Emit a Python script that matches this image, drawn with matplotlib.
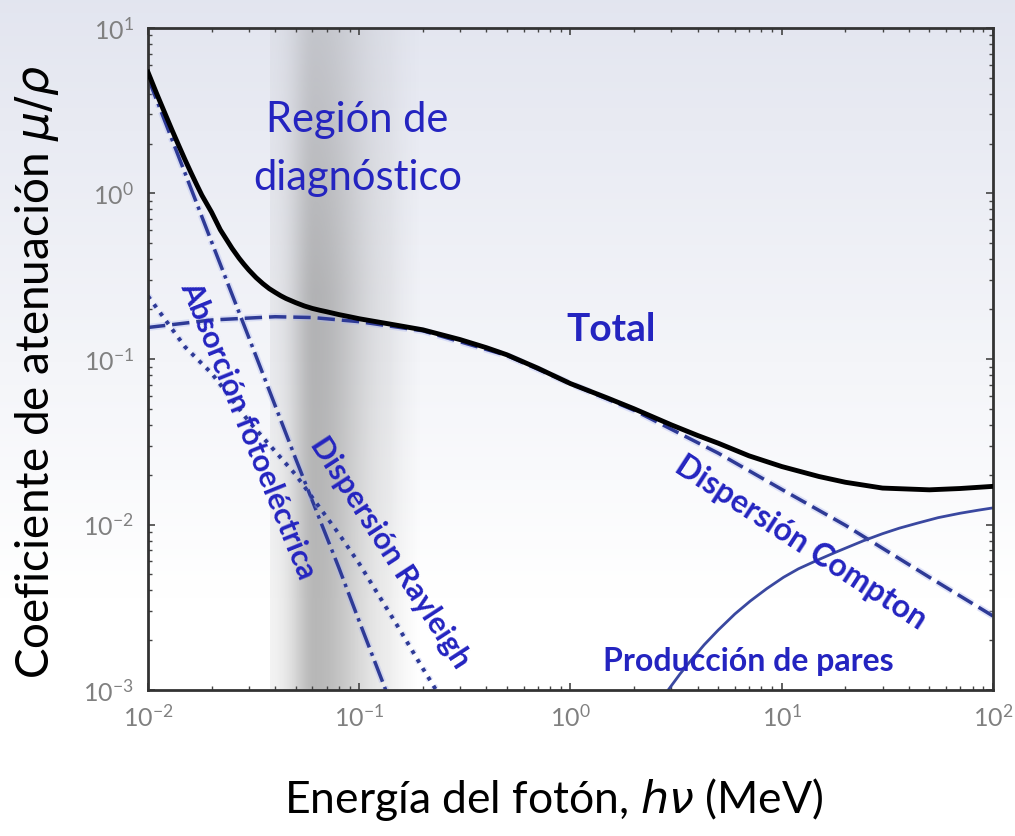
import numpy as np
import matplotlib.pyplot as plt
import matplotlib.patheffects as pe

plt.rcParams['font.family'] = ['Lato', 'DejaVu Sans']

# energias (MeV) y coeficientes
e_total = [0.01, 0.011, 0.012, 0.013, 0.014, 0.015, 0.016, 0.017, 0.018, 0.02, 0.022,
           0.025, 0.027, 0.0285, 0.03, 0.0325, 0.035, 0.0375, 0.04, 0.0425, 0.045,
           0.05, 0.055, 0.06, 0.065, 0.07, 0.08, 0.09, 0.1, 0.15, 0.2, 0.3, 0.4, 0.5,
           0.7, 1, 1.5, 2, 3, 4, 5, 7, 10, 15, 20, 30, 50, 70, 100]
mu_total = [5.4, 4.0, 3.07, 2.41, 1.94, 1.59, 1.33, 1.13, 0.974, 0.77, 0.603,
            0.466, 0.406, 0.3725, 0.345, 0.31, 0.285, 0.266, 0.2525, 0.241, 0.232,
            0.219, 0.209, 0.202, 0.197, 0.193, 0.1855, 0.18, 0.175, 0.16, 0.15, 0.131,
            0.117, 0.106, 0.088, 0.071, 0.058, 0.05, 0.04, 0.0345, 0.031, 0.026,
            0.0224, 0.0195, 0.018, 0.0166, 0.0162, 0.0165, 0.017]

e_foto = [0.01, 0.015, 0.02, 0.03, 0.05, 0.08, 0.1, 0.15]
mu_foto = [5.0, 1.32, 0.51, 0.135, 0.025, 0.0055, 0.0026, 0.00068]

e_rayleigh = [0.01, 0.015, 0.02, 0.03, 0.05, 0.08, 0.1, 0.15, 0.2, 0.25]
mu_rayleigh = [0.24, 0.118, 0.082, 0.042, 0.02, 0.0088, 0.0058, 0.0025, 0.00135, 0.00085]

e_compton = [0.01, 0.02, 0.04, 0.06, 0.1, 0.2, 0.5, 1, 2, 5, 10, 20, 50, 100]
mu_compton = [0.155, 0.172, 0.18, 0.178, 0.168, 0.148, 0.105, 0.071, 0.049, 0.027,
              0.0163, 0.0099, 0.0048, 0.0028]

e_pares = [2.9, 3.3, 3.7, 4.3, 5.0, 6.0, 7.1, 8.5, 10.2, 12, 14.8, 18, 24.5, 30, 36,
           44, 55, 70, 85, 100]
mu_pares = [0.00100, 0.00125, 0.00150, 0.00188, 0.00230, 0.00288, 0.00345, 0.0041,
            0.0048, 0.0054, 0.0061, 0.0068, 0.0080, 0.0088, 0.0095, 0.0102, 0.0110,
            0.0117, 0.0122, 0.0126]

# region de diagnostico (MeV)
diag_lo, diag_hi = 0.038, 0.195

azul_txt = '#2424c0'
azul_lin = '#2e3a96'

fig = plt.figure(figsize=(10.15, 8.36), dpi=100)

# fondo degradado
bg = fig.add_axes([0, 0, 1, 1], zorder=-10)
grad = np.linspace(0, 1, 256)[:, None]
top = np.array([0.89, 0.90, 0.94])
col = top + (1 - top) * np.clip(grad * 1.4, 0, 1)[..., None]
bg.imshow(np.repeat(col, 2, axis=1), aspect='auto', extent=[0, 1, 0, 1])
bg.axis('off')

ax = fig.add_axes([0.1458, 0.1746, 0.8325, 0.792])
ax.set_facecolor('none')
ax.set_xscale('log')
ax.set_yscale('log')
ax.set_xlim(1e-2, 1e2)
ax.set_ylim(1e-3, 1e1)

# banda gris
lx0, lx1 = np.log10(1e-2), np.log10(1e2)
f0 = (np.log10(diag_lo) - lx0) / (lx1 - lx0)
f1 = (np.log10(diag_hi) - lx0) / (lx1 - lx0)
t = np.linspace(0, 1, 300)
v = np.linspace(0, 1, 150)[:, None]          # 0 abajo, 1 arriba
sig = np.where(t < 0.3, 0.16, 0.33)
prof = 0.15 + 0.85 * np.exp(-((t - 0.3) / sig) ** 2)
prof *= np.clip((1 - t) / 0.2, 0, 1)
vert = 0.62 - 0.25 * np.clip((v - 0.6) / 0.4, 0, 1)
alpha = prof[None, :] * vert
img = np.zeros((150, 300, 4))
img[..., :3] = 0.55
img[..., 3] = alpha
ax.imshow(img, transform=ax.transAxes, extent=[f0, f1, 0, 1], aspect='auto',
          origin='lower', zorder=0.5, interpolation='bilinear')

halo = [pe.Stroke(linewidth=5, foreground='#aab4f0', alpha=0.35), pe.Normal()]
ax.plot(e_foto, mu_foto, ls='-.', c=azul_lin, lw=2.5, path_effects=halo, zorder=2)
ax.plot(e_rayleigh, mu_rayleigh, ls=':', c=azul_lin, lw=2.8, path_effects=halo, zorder=2)
ax.plot(e_compton, mu_compton, ls=(0, (5, 2)), c=azul_lin, lw=2.5, path_effects=halo, zorder=2)
ax.plot(e_pares, mu_pares, ls='-', c='#3a48a0', lw=2, zorder=2)
ax.plot(e_total, mu_total, ls='-', c='black', lw=3.5, zorder=3)

ax.text(0.098, 1.85, 'Región de\ndiagnóstico', color=azul_txt, fontsize=30,
        ha='center', va='center', linespacing=1.65, zorder=4)
ax.text(1.55, 0.15, 'Total', color=azul_txt, fontsize=28, fontweight='bold',
        ha='center', va='center', zorder=4)
ax.text(0.0298, 0.037, 'Absorción fotoeléctrica', color=azul_txt, fontsize=22,
        fontweight='bold', rotation=-68, rotation_mode='anchor',
        ha='center', va='center', zorder=4)
ax.text(0.14, 0.0068, 'Dispersión Rayleigh', color=azul_txt, fontsize=22,
        fontweight='bold', rotation=-57, rotation_mode='anchor',
        ha='center', va='center', zorder=4)
ax.text(12.3, 0.0078, 'Dispersión Compton', color=azul_txt, fontsize=23,
        fontweight='bold', rotation=-33, rotation_mode='anchor',
        ha='center', va='center', zorder=4)
ax.text(6.98, 0.00148, 'Producción de pares', color=azul_txt, fontsize=23,
        fontweight='bold', ha='center', va='center', zorder=4)

for s in ax.spines.values():
    s.set_color('#333333')
    s.set_linewidth(2)
ax.tick_params(which='both', direction='in', top=True, right=True, colors='#444444')
ax.tick_params(which='major', length=5, width=1.2, labelsize=18, labelcolor='#808080', pad=10)
ax.tick_params(which='minor', length=3, width=1)

ax.set_xlabel(r'Energía del fotón, $h\nu$ (MeV)', fontsize=32)
ax.set_ylabel(r'Coeficiente de atenuación $\mu/\rho$', fontsize=33)
ax.xaxis.set_label_coords(0.48, -0.13)
ax.yaxis.set_label_coords(-0.103, 0.48)

fig.savefig('out.png', dpi=100)
